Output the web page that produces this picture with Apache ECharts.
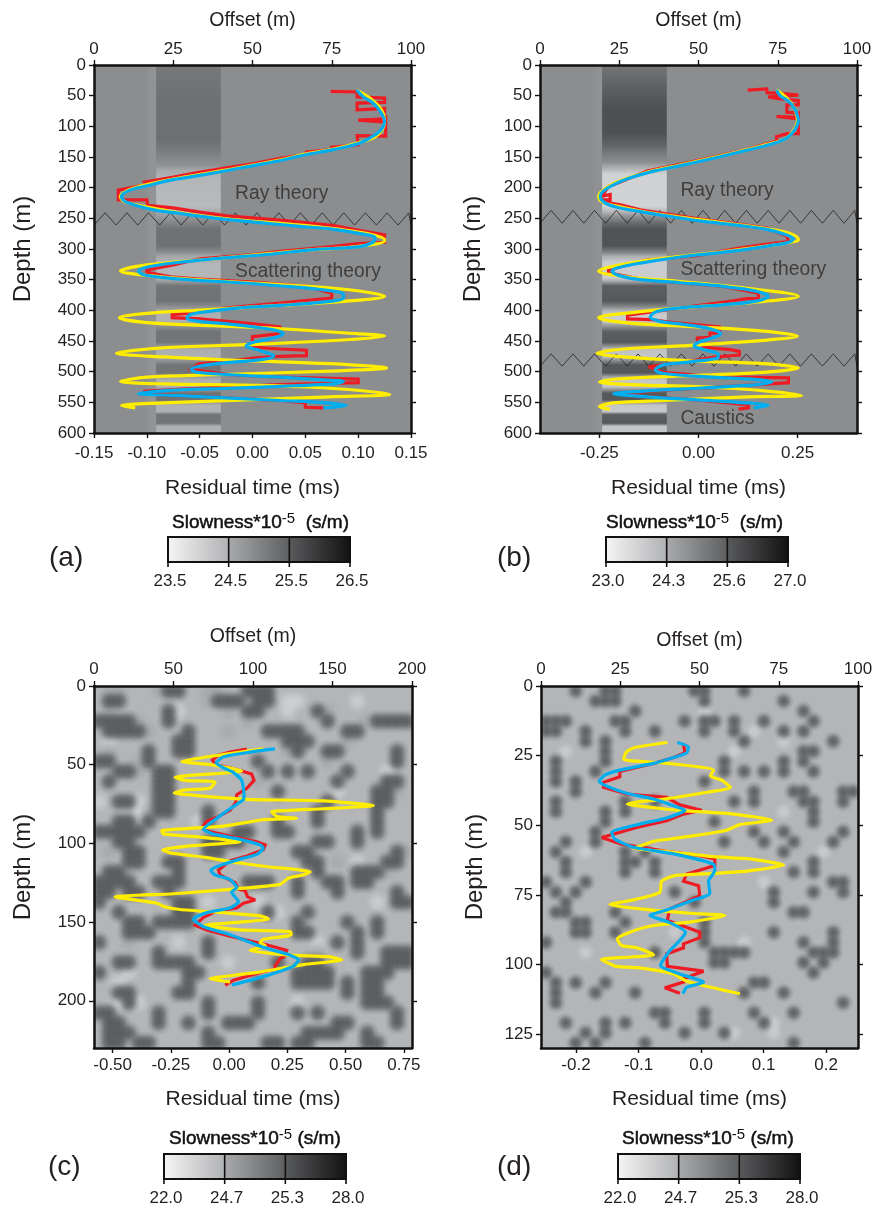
<!DOCTYPE html>
<html><head><meta charset="utf-8">
<style>html,body{margin:0;padding:0;background:#fff}#c{width:878px;height:1206px}</style>
<script src="https://cdn.jsdelivr.net/npm/echarts@6/dist/echarts.min.js"></script></head>
<body><div id="c"></div>
<script>
// ---------- colour-bar tick labels ----------
const barTicksA = ['23.5','24.5','25.5','26.5'];
const barTicksB = ['23.0','24.3','25.6','27.0'];
const barTicksC = ['22.0','24.7','25.3','28.0'];
const barTicksD = ['22.0','24.7','25.3','28.0'];
// ---------- axis ticks ----------
const timeTicksA = [-0.15,-0.10,-0.05,0,0.05,0.10,0.15];
const timeTicksB = [-0.25,0,0.25];
const timeTicksC = [-0.50,-0.25,0,0.25,0.50,0.75];
const timeTicksD = [-0.2,-0.1,0,0.1,0.2];
const depthTicksAB = [0,50,100,150,200,250,300,350,400,450,500,550,600];
const depthTicksC = [0,50,100,150,200];
const depthTicksD = [0,25,50,75,100,125];
// ---------- panel (a) residual time vs depth ----------
const redA = [[.074,43],[.099,44],[.099,52],[.125,54],[.125,61],[.099,62],[.099,73],[.125,71],[.125,77],[.122,78],[.126,84],[.126,88],[.1,90],[.126,93],[.126,116],[.099,115],[.1,130],[.075,134],[.075,138],[.051,142],[.049,146],[.024,153],[0,161],[-.026,168],[-.051,175],[-.076,183],[-.102,191],[-.1,195],[-.127,204],[-.127,220],[-.1,220],[-.099,229],[-.075,233],[-.05,240],[-.024,246],[.026,253],[.077,262],[.102,270],[.125,277],[.125,289],[.1,291],[.075,296],[.05,300],[.026,304],[.001,309],[-.05,316],[-.075,326],[-.1,334],[-.1,338],[-.075,346],[-.05,349],[.001,354],[.051,361],[.075,372],[.075,380],[.05,384],[.026,388],[-.024,396],[-.062,405],[-.076,407],[-.076,412],[-.05,414],[-.024,418],[.001,422],[.026,427],[.026,438],[0,443],[0,449],[.001,460],[.026,463],[.051,465],[.051,474],[.026,475],[.001,478],[-.024,483],[-.051,487],[-.058,496],[-.021,505],[.026,509],[.1,512],[.1,518],[.026,521],[-.062,528],[-.102,532],[-.103,536],[-.069,539],[.026,547],[.05,551],[.05,558],[.067,559]];
const yellowA = [[.0986,41],[.111,54],[.122,73],[.125,92],[.123,105],[.116,117],[.102,126],[.0765,137],[.051,145],[.023,156],[-.024,171],[-.075,186],[-.1,195],[-.116,203],[-.125,214],[-.122,222],[-.11,228],[-.069,241],[-.018,252],[.045,261],[.102,273],[.125,285],[.125,287],[.099,296],[.058,301],[.013,308],[-.037,316],[-.1,326],[-.125,336],[-.1,343],[-.053,350],[.026,358],[.089,366],[.125,377],[.089,385],[.026,392],[-.053,400],[-.1,405],[-.126,412],[-.1,420],[-.037,425],[.026,430],[.089,437],[.125,442],[.089,448],[-.006,456],[-.084,461],[-.129,470],[-.084,476],[-.006,482],[.073,487],[.127,494],[.073,499],[-.037,505],[-.1,509],[-.125,516],[-.084,520],[-.006,522],[.073,527],[.13,537],[.073,541],[-.006,546],[-.084,551],[-.124,555],[-.111,559]];
const blueA = [[.0986,41],[.105,52],[.114,62],[.121,76],[.125,92],[.122,105],[.114,116],[.102,127],[.0765,138],[.051,146],[.023,157],[.001,164],[-.024,172],[-.05,180],[-.075,187],[-.1,197],[-.116,204],[-.124,214],[-.121,222],[-.11,229],[-.091,237],[-.069,242],[-.043,248],[-.018,253],[.013,258],[.045,263],[.077,268],[.102,275],[.116,282],[.114,289],[.102,296],[.058,301],[.013,309],[-.037,316],[-.081,324],[-.103,331],[-.108,336],[-.103,342],[-.081,347],[-.053,351],[-.012,355],[.032,361],[.064,366],[.086,374],[.086,380],[.064,387],[.026,392],[-.012,396],[-.043,402],[-.059,407],[-.062,413],[-.05,418],[-.024,422],[.001,427],[.023,433],[.029,438],[.02,445],[.001,452],[-.006,458],[.004,464],[.017,471],[.02,475],[.01,480],[-.021,485],[-.047,490],[-.058,496],[-.053,501],[-.021,505],[.026,509],[.064,513],[.086,516],[.077,520],[.039,523],[-.021,527],[-.075,530],[-.108,536],[-.069,539],[-.021,543],[.026,547],[.064,550],[.089,555],[.067,559]];
// ---------- panel (b) ----------
const redB = [[.124,41],[.172,39],[.173,45],[.202,46],[.252,49],[.176,52],[.202,55],[.252,58],[.252,65],[.223,65],[.223,77],[.252,78],[.252,85],[.197,84],[.252,88],[.252,112],[.223,112],[.197,117],[.197,124],[.122,138],[.038,150],[-.046,162],[-.13,173],[-.202,192],[-.227,198],[-.244,214],[-.223,211],[-.223,220],[-.244,220],[-.223,225],[-.197,228],[-.147,236],[-.071,244],[.013,252],[.097,259],[.172,266],[.223,279],[.227,288],[.164,293],[.088,300],[-.004,311],[-.13,318],[-.227,334],[-.227,339],[-.13,351],[-.046,355],[.063,361],[.151,372],[.151,381],[.122,381],[.071,386],[-.046,396],[-.147,405],[-.179,408],[-.179,414],[-.122,415],[-.046,421],[.053,427],[.053,437],[.029,437],[.029,444],[-.003,445],[-.003,449],[.013,460],[.08,464],[.103,467],[.103,473],[.046,476],[-.055,486],[-.126,492],[-.088,501],[.038,508],[.227,510],[.227,518],[.08,524],[-.088,530],[-.206,536],[-.13,541],[-.004,546],[.126,554],[.126,559],[.101,561]];
const yellowB = [[.197,41],[.223,54],[.244,73],[.25,91],[.239,108],[.218,121],[.189,127],[.122,138],[.038,151],[-.046,163],[-.113,172],[-.172,183],[-.214,193],[-.244,206],[-.252,214],[-.241,224],[-.206,230],[-.147,238],[-.071,246],[.013,253],[.097,260],[.172,267],[.227,274],[.252,284],[.248,287],[.197,293],[.08,303],[-.046,312],[-.172,323],[-.252,336],[-.172,346],[-.046,353],[.122,364],[.252,377],[.122,388],[-.046,396],[-.172,404],[-.252,412],[-.172,421],[-.004,427],[.164,434],[.25,442],[.164,449],[-.046,458],[-.189,463],[-.256,470],[-.189,476],[-.004,483],[.164,487],[.252,494],[.164,501],[-.088,508],[-.206,512],[-.25,517],[-.172,521],[.08,527],[.26,539],[.122,541],[-.088,547],[-.214,551],[-.25,557],[-.223,561]];
const blueB = [[.197,41],[.206,50],[.227,59],[.244,73],[.252,91],[.244,105],[.223,119],[.189,128],[.122,139],[.038,152],[-.046,164],[-.113,173],[-.172,184],[-.214,195],[-.241,206],[-.248,214],[-.238,224],[-.206,232],[-.147,239],[-.071,247],[.013,255],[.097,261],[.172,268],[.223,277],[.239,284],[.223,290],[.197,293],[.08,304],[-.046,313],[-.147,323],[-.206,331],[-.218,336],[-.202,343],[-.147,350],[-.046,355],[.063,361],[.147,369],[.176,377],[.147,385],[.063,391],[-.046,396],[-.105,402],[-.122,411],[-.097,418],[-.038,423],[.029,430],[.056,438],[.034,445],[0,452],[-.011,458],[.013,464],[.05,472],[.046,478],[-.021,484],[-.088,489],[-.109,497],[-.088,503],[.038,509],[.147,513],[.185,517],[.147,521],[-.004,527],[-.147,532],[-.214,536],[-.13,541],[-.004,546],[.097,550],[.176,555],[.139,559]];
// ---------- panel (c) ----------
const redC = [[.076,40],[.004,42],[-.046,44],[-.072,47],[-.056,50],[.004,52],[.054,54],[.097,56],[.107,60],[.076,65],[.033,69],[.029,74],[.004,79],[-.046,83],[-.096,86],[-.117,90],[-.096,92],[.019,96],[.119,99],[.155,101],[.147,104],[.076,108],[.004,111],[-.046,117],[-.039,120],[.026,125],[.04,129],[.069,130],[.079,134],[.112,136],[.062,138],[.033,141],[-.053,143],[-.11,147],[-.146,152],[-.096,155],[.004,159],[.119,163],[.176,165],[.247,168],[.236,172],[.219,173],[.197,178],[.197,180],[.133,182],[.019,187],[-.017,190]];
const yellowC = [[.147,40],[.004,43],[-.203,48],[-.081,50],[.054,54],[-.232,58],[-.189,60],[-.06,61],[-.082,65],[-.189,66],[-.236,68],[-.11,70],[.076,72],[.405,73],[.619,76],[.405,78],[.183,80],[.205,83],[.29,84],[.147,85],[-.024,89],[-.289,92],[-.282,94],[-.124,96],[.047,99],[-.024,100],[-.196,102],[-.285,104],[-.253,106],[-.096,109],[.021,112],[.176,115],[.348,118],[.319,120],[.255,122],[.219,126],[.019,129],[-.239,132],[-.489,134],[-.31,138],[-.282,140],[-.211,142],[-.024,144],[.133,146],[.169,148],[.047,150],[-.103,152],[.047,155],[.262,156],[.266,158],[.147,161],[.133,163],[.155,165],[.09,168],[.262,171],[.426,172],[.484,174],[.319,177],[.119,182],[-.046,185],[-.082,186],[.004,188]];
const blueC = [[.197,40],[.09,42],[-.024,45],[-.056,49],[-.024,52],[.019,55],[.054,60],[.064,69],[.062,72],[.004,78],[-.053,84],[-.11,91],[-.067,94],[.033,97],[.133,101],[.147,103],[.119,107],[.047,110],[-.039,114],[-.079,117],[-.06,120],[.004,123],[.033,128],[.011,131],[.04,137],[.004,141],[-.096,144],[-.153,148],[-.11,153],[.004,158],[.147,166],[.262,171],[.298,174],[.276,178],[.162,184],[.011,190]];
// ---------- panel (d) ----------
const redD = [[-.028,20.7],[-.026,24],[-.044,25.7],[-.076,27.8],[-.13,30.7],[-.13,32.6],[-.156,34.6],[-.156,36.4],[-.119,38.8],[-.055,40],[-.034,42.7],[.001,44.6],[-.028,46],[-.055,48.4],[-.103,50.8],[-.159,54.4],[-.127,56.8],[-.055,59.4],[-.002,60.9],[.022,62.1],[.022,64.5],[-.023,67.5],[-.028,70.1],[-.004,71.7],[-.002,75.3],[-.05,80],[-.054,84.2],[-.034,85.7],[-.002,88.4],[-.002,90.4],[-.028,92.6],[-.028,94],[-.055,96.2],[-.054,100.7],[.004,102.4],[-.028,105.1],[-.028,106.3],[-.058,108.4],[-.034,110.3]];
const yellowD = [[-.054,20.3],[-.106,22.1],[-.119,23.6],[-.124,26.3],[-.087,27.2],[-.044,28],[.02,30.2],[.015,32.3],[.033,33.8],[.047,36.4],[-.002,38.6],[-.071,41],[-.098,41.5],[-.118,42.4],[-.071,43.8],[-.028,44.8],[.052,46],[.113,48.2],[.062,49.8],[.038,52],[-.023,54.1],[-.076,55.8],[-.095,57.3],[-.108,58.2],[-.044,59.7],[.02,61.3],[.078,62.1],[.132,64.3],[.073,66.5],[.02,67.3],[-.042,68.1],[-.063,70.1],[-.066,74.1],[-.108,76.8],[-.146,78.5],[-.082,80.4],[-.018,81.6],[.038,82.4],[-.018,84.8],[-.076,86],[-.114,88.4],[-.134,90.8],[-.127,93.2],[-.103,94],[-.076,96.5],[-.119,97.4],[-.159,98.2],[-.135,100.7],[-.098,101.2],[-.044,103.4],[-.023,106],[.062,110.5]];
const blueD = [[-.038,20.3],[-.02,21.9],[-.023,24],[-.044,25.7],[-.076,27.8],[-.13,30.2],[-.154,32],[-.163,34.3],[-.146,36.4],[-.119,38.5],[-.076,40.6],[-.044,43],[-.026,44.6],[-.055,47.4],[-.098,49.6],[-.143,52.6],[-.138,55],[-.108,57.9],[-.044,60.3],[.02,64],[.022,66.3],[.012,70],[.014,74.4],[-.018,77.3],[-.055,80.4],[-.082,82.4],[-.052,84.8],[-.025,88.4],[-.034,91.4],[-.052,95.6],[-.065,100.4],[-.034,103.4],[.004,106.4],[-.023,108.2],[-.029,110.5]];
// ---------- layered model slowness: depth and slowness inside the 20-40 m column ----------
const bandDepthA = [0,30,60,120,130,150,165,172,185,230,240,250,258,268,295,305,312,325,347,353,360,385,393,402,408,418,425,435,452,458,464,475,482,489,502,508,514,524,530,535,546,550,555,565,570,584,589,597,600];
const bandSlowA  = [25.15,25.2,25.27,25.27,25.2,25.0,24.8,24.5,24.35,24.28,24.5,24.8,25.0,25.25,25.25,24.9,24.55,24.33,24.33,24.7,25.2,25.25,24.9,24.5,24.4,24.4,24.8,25.2,25.2,24.8,24.45,24.4,24.8,25.2,25.2,24.7,24.4,24.4,24.8,25.25,25.25,24.8,24.4,24.4,25.2,25.2,24.4,24.4,24.4];
const bandDepthB = [0,30,70,110,130,145,158,166,178,230,238,248,258,268,295,305,312,322,347,353,360,385,393,402,408,418,425,435,452,458,464,475,482,489,502,508,514,524,530,535,546,550,555,565,570,584,589,600];
const bandSlowB  = [25.2,25.5,25.85,25.85,25.5,25.1,24.8,24.3,23.6,23.6,24.0,24.8,25.4,25.8,25.8,25,24.2,23.7,23.7,24.4,25.6,25.7,25,24,23.7,23.7,24.6,25.6,25.7,24.8,23.9,23.8,24.8,25.7,25.7,24.5,23.8,23.8,24.8,25.7,25.7,24.7,23.8,23.8,25.6,25.7,23.8,23.8];
const backgroundSlow = {a:24.87, b:24.78, c:24.27, d:24.27};
// ---------- zig-zag markers (offset, then shallow/deep depth) ----------
const zigOffsets = [0,3.5,7,10.4,13.8,17.2,20.7,24.1,27.5,30.9,34.3,37.8,41.2,44.6,48,51.4,54.9,58.3,61.7,65.1,68.5,72,75.4,78.8,82.2,85.6,89.1,92.5,95.9,99.3,100];
const zigDepthsA = [[241,261]];
const zigDepthsB = [[237,258],[471,491]];
// ---------- random-medium slowness read cell by cell (# dark, + mid, . background, - light) ----------
const levelSlow = {'-':23.0,'.':24.27,'+':24.78,'#':25.33};
const mediumC = [
".++...+##. .++..###.. .......... ..",
".##....... .+###+##.- -.....-... ..",
".+.....#-. ...+.##..- ..#+...... ..",
"####+..#.. .....+.... ...#...+## ##",
".####+...# ...+...### #....##... ..",
".-......## .........# ##...+.... ..",
".+...#..## .........+ #..##..... #.",
"##..+#.... ......#... ...+...... #.",
"..##+.##.. .......#.# .#...#...- ..",
".#....##.. ......+... ....#....# #.",
"......##.. ........#. ....-...## +.",
"-.##-.##.. .......... ...#....## ..",
"....-+##.. .#........ ..#.....#. ..",
"..##.#.... -#......#. ..#.....#. ..",
"#####..... ....##..## ......#.#. ..",
"..##...... .####+.... ..##..#... ..",
".+.##..... .##....... ##........ #+",
"...##..##. .......... .##.+.-..# #.",
".##+....#. .......... ..#...###+ ..",
"####..###. .....###.. #..##.##.. ..",
"##.##..#.. .......... #...#..... #.",
"#.......## .-....-... ........-. ##",
"..#.....## .......#-. .#........ ..",
"...##.#### .......... #....#..#. ..",
"...###.... .......... ##....#.#. ..",
"#..+....-. .#........ ..-.#.#... ..",
"......#... .#........ ..+...#..# ##",
"..##..#### ...-....#. .##+.....# ##",
"#..-.....# #......... ####...### ..",
"..-......# ......#... ####.#.##. ..",
"..##....## .......... .....#.##. ..",
"..-#-..... .#....#... -......### ..",
"##....#... .#....#... #.#....... #.",
".##...#..# ...###.... ....##.... #.",
".###...... .#........ .####..#.. ..",
".##.##.... .##....##. ##.....##. .."];
const mediumD = [
"...#..##.. .....##... #......... ..",
".....###.. ......#... ....#..... ..",
".........# ......-... ......#... ..",
"###....##. ....#.##.# ..#....#.. ..",
"##..#...#. .#....#..# .-..#.#... ..",
"....#.#... .......... #...-....# ..",
"..-...#... .........- ......##.. ..",
".#....#... ........#. ....#.#... ..",
".#...#.... ........#. #.#.#..#.. ..",
".#.#...... ......#... .......... ..",
"...#...... .......... .#...##... ##",
".#......#. .#.......# .#....##.. #.",
".#....#.#. .......... ....-..#.. ..",
"......#... .......#.. .......#.. ..",
".....#.... .......... .#..#..... #.",
"..#..#.... ........#. ..#..#...# ..",
".#..-...#. #-........ ....#...-. ..",
"..#.....## .#........ .......#.. ..",
"..#.....#. .#........ .....#.#.. ..",
"#...#..... .......... ..-......# #.",
".#.#...... ...#...... ...#...#.. #.",
"..#....... .....#.... ...#...... ..",
".##....#.. .......... .....##... ..",
"...##...#. ......#... .......... ..",
"...##..#.. ...-..#... ...#.....# ..",
"#......... ......#... -.....#..# ..",
"....-..... .#.....### #......### ..",
".......... .......##. ......#.#. ..",
"#......... .......... .......#.. ..",
".#.#..#... .......... .##....... ..",
".#...#...# .......... #...#..... ..",
".#........ .......... .......... #.",
".......... .##...#... .#...#.... ..",
"..#...#.#. ..#...#... ..#-...... ..",
"....#.#... ....#...#- ...-...... ..",
"...#.#.... #......... .....#.... .."];

// ---------- helpers ----------
function grayVal(s, ticks){
  const t = ticks.map(Number); let f = 1;
  for(let i=0;i<3;i++){ if(s<=t[i+1]){ f=(i+(s-t[i])/(t[i+1]-t[i]))/3; break; } }
  f=Math.max(0,Math.min(1,f));
  return Math.round(244-f*227);
}
function grayOf(s,ticks){ const g=grayVal(s,ticks); return 'rgb('+g+','+(g+1)+','+(g+3)+')'; }
function mediumCells(rows,maxOff,maxDepth,order){
  const out=[]; const clean=rows.map(r=>r.replace(/ /g,''));
  clean.forEach((row,r)=>{ for(let c=0;c<row.length;c++){ if(row[c]===order){
    out.push([(c+.5)/row.length*maxOff,(r+.5)/clean.length*maxDepth,levelSlow[order]]);
  }}});
  return out;
}
const FONT='"Liberation Sans",Arial,sans-serif', INK='#231f20';
const panels=[
 {key:'a',left:94,top:65,w:317,h:368,tmin:-.15,tmax:.15,tt:timeTicksA,dec:2,dmax:600,dt:depthTicksAB,omax:100,oint:25,red:redA,yel:yellowA,blu:blueA,bar:barTicksA,smooth:.35,zig:zigDepthsA,bd:bandDepthA,bs:bandSlowA,strip:24.8,
  lm:12,rg:44.5,om:7.5,og:34,dg:59,notes:[{name:'Ray theory',value:[44.5,209]},{name:'Scattering theory',value:[44.5,337]}]},
 {key:'b',left:540,top:65,w:317,h:368,tmin:-.4,tmax:.4,tt:timeTicksB,dec:2,dmax:600,dt:depthTicksAB,omax:100,oint:25,red:redB,yel:yellowB,blu:blueB,bar:barTicksB,smooth:.35,zig:zigDepthsB,bd:bandDepthB,bs:bandSlowB,strip:24.72,
  lm:12,rg:44.5,om:7.5,og:34,dg:55,notes:[{name:'Ray theory',value:[44.3,205]},{name:'Scattering theory',value:[44.3,334]},{name:'Caustics',value:[44.3,577]}]},
 {key:'c',left:94,top:686,w:318,h:362,tmin:-.58,tmax:.785,tt:timeTicksC,dec:2,dmax:230,dt:depthTicksC,omax:200,oint:50,red:redC,yel:yellowC,blu:blueC,bar:barTicksC,smooth:.2,zig:[],medium:mediumC,r:12.5,
  lm:9,rg:40.5,om:8.5,og:39.5,dg:59,notes:[]},
 {key:'d',left:541,top:686,w:317,h:362,tmin:-.256,tmax:.251,tt:timeTicksD,dec:1,dmax:130,dt:depthTicksD,omax:100,oint:25,red:redD,yel:yellowD,blu:blueD,bar:barTicksD,smooth:.2,zig:[],medium:mediumD,r:10.5,
  lm:9,rg:40.5,om:8.5,og:35.5,dg:54,notes:[]}
];
const axisLine={show:true,onZero:false,lineStyle:{color:'#111',width:2.5}};
const tick={show:true,length:5,lineStyle:{color:'#111',width:1.4}};
const lab={color:INK,fontFamily:FONT,fontSize:17};

const grid=[],xAxis=[],yAxis=[],series=[];
panels.forEach((p,i)=>{
  grid.push({left:p.left,top:p.top,width:p.w,height:p.h,show:true,borderWidth:0,backgroundColor:grayOf(backgroundSlow[p.key],p.bar)});
  const xb=2*i,xt=2*i+1,yl=2*i;
  xAxis.push({gridIndex:i,type:'value',position:'bottom',min:p.tmin,max:p.tmax,z:6,splitLine:{show:false},axisLine,
    axisTick:{...tick,customValues:p.tt},
    axisLabel:{...lab,margin:p.lm,customValues:p.tt,formatter:v=>Number(v).toFixed(p.dec)},
    name:'Residual time (ms)',nameLocation:'middle',nameGap:p.rg,nameTextStyle:{color:INK,fontFamily:FONT,fontSize:21}});
  xAxis.push({gridIndex:i,type:'value',position:'top',min:0,max:p.omax,interval:p.oint,z:6,splitLine:{show:false},axisLine,axisTick:tick,
    axisLabel:{...lab,margin:p.om},name:'Offset (m)',nameLocation:'middle',nameGap:p.og,nameTextStyle:{color:INK,fontFamily:FONT,fontSize:19.5}});
  yAxis.push({gridIndex:i,type:'value',position:'left',inverse:true,min:0,max:p.dmax,z:6,splitLine:{show:false},axisLine,
    axisTick:{...tick,customValues:p.dt},axisLabel:{...lab,margin:8,customValues:p.dt},
    name:'Depth (m)',nameLocation:'middle',nameGap:p.dg,nameTextStyle:{color:INK,fontFamily:FONT,fontSize:24}});
  yAxis.push({gridIndex:i,type:'value',position:'right',inverse:true,min:0,max:p.dmax,z:6,splitLine:{show:false},axisLine,
    axisTick:{...tick,customValues:p.dt},axisLabel:{show:false}});
  // model background
  if(p.bd){
    const stops=p.bd.map((d,k)=>({offset:d/p.dmax,color:grayOf(p.bs[k],p.bar)}));
    const stripGray=grayOf(p.strip,p.bar);
    series.push({type:'custom',name:'model '+p.key,xAxisIndex:xt,yAxisIndex:yl,silent:true,animation:false,clip:true,z:1,
      data:[[16,19.6,40,p.dmax]],
      renderItem:(ps,api)=>{
        const a=api.coord([api.value(0),0]),b=api.coord([api.value(1),api.value(3)]),c=api.coord([api.value(2),0]);
        return {type:'group',children:[
          {type:'rect',shape:{x:a[0],y:a[1],width:b[0]-a[0],height:b[1]-a[1]},style:{fill:new echarts.graphic.LinearGradient(0,0,1,0,[{offset:0,color:grayOf(backgroundSlow[p.key],p.bar)},{offset:.5,color:stripGray},{offset:1,color:stripGray}])}},
          {type:'rect',shape:{x:b[0],y:a[1],width:c[0]-b[0],height:b[1]-a[1]},style:{fill:new echarts.graphic.LinearGradient(0,0,0,1,stops)}}
        ]};
      }});
  }
  // random medium: soft blobs so neighbouring cells merge
  if(p.medium){
    ['-','+','#'].forEach((lev,q)=>{
      const strength=lev==='#'?1:(lev==='+'?.6:.75);
      series.push({type:'custom',name:'medium '+p.key+q,xAxisIndex:xt,yAxisIndex:yl,silent:true,animation:false,clip:true,z:1+q*.1,
        data:mediumCells(p.medium,p.omax,p.dmax,lev),
        renderItem:(ps,api)=>{
          const pt=api.coord([api.value(0),api.value(1)]);
          const g=grayVal(api.value(2),p.bar)-(lev==='#'?14:0);
          const rgba=a=>'rgba('+g+','+(g+1)+','+(g+3)+','+(a*strength)+')';
          return {type:'circle',shape:{cx:pt[0],cy:pt[1],r:p.r},style:{fill:new echarts.graphic.RadialGradient(.5,.5,.5,[{offset:0,color:rgba(.85)},{offset:.4,color:rgba(.6)},{offset:.7,color:rgba(.2)},{offset:1,color:rgba(0)}])}};
        }});
    });
  }
  // zig-zags
  p.zig.forEach((z,k)=>{
    series.push({type:'line',name:'zigzag '+p.key+k,xAxisIndex:xt,yAxisIndex:yl,silent:true,animation:false,z:3,showSymbol:false,
      lineStyle:{color:'#222',width:.8},data:zigOffsets.map((o,n)=>[o,n%2?z[0]:z[1]])});
  });
  // curves
  const line=(name,data,color,smooth,z,w)=>({type:'line',name,xAxisIndex:xb,yAxisIndex:yl,data,silent:true,animation:false,showSymbol:false,
    smooth,z,lineStyle:{color,width:w,join:'miter',miterLimit:3}});
  series.push(line('Measured '+p.key,p.red,'#ed1c24',0,4,3.2));
  series.push(line('Ray/scattering '+p.key,p.yel,'#ffed00',p.smooth,5,3.2));
  series.push(line('Fit '+p.key,p.blu,'#00aeef',p.smooth,5.5,3.2));
  if(p.notes.length){
    series.push({type:'scatter',name:'notes '+p.key,xAxisIndex:xt,yAxisIndex:yl,symbolSize:0,silent:true,animation:false,z:5.8,data:p.notes,
      label:{show:true,position:'right',distance:0,formatter:'{b}',color:'#2b2b2b',fontFamily:FONT,fontSize:19.3}});
  }
});
// colour bars and panel letters
const bars=[
 {x:168,y:537,t:barTicksA,tx:172,ty:523,gap:'  ',letter:'(a)',lx:49,ly:558},
 {x:606,y:537,t:barTicksB,tx:606,ty:523,gap:'  ',letter:'(b)',lx:497,ly:558},
 {x:164,y:1154,t:barTicksC,tx:169,ty:1139,gap:' ',letter:'(c)',lx:48,ly:1167},
 {x:618,y:1154,t:barTicksD,tx:622,ty:1139,gap:' ',letter:'(d)',lx:497,ly:1167}
];
const graphic=[];
bars.forEach(b=>{
  const W=182,H=25;
  graphic.push({type:'rect',silent:true,shape:{x:b.x,y:b.y,width:W,height:H},
    style:{fill:new echarts.graphic.LinearGradient(0,0,1,0,[{offset:0,color:'#f6f6f6'},{offset:.33,color:'#b2b3b5'},{offset:.34,color:'#a8a9ab'},{offset:.66,color:'#5f6062'},{offset:.67,color:'#58595b'},{offset:1,color:'#111'}]),stroke:'#111',lineWidth:2}});
  b.t.forEach((v,i)=>{
    const x=b.x+W*i/3;
    graphic.push({type:'line',silent:true,shape:{x1:x,y1:b.y,x2:x,y2:b.y+H+5},style:{stroke:'#111',lineWidth:1.6}});
    graphic.push({type:'text',silent:true,style:{text:v,x:x+2,y:b.y+H+19,align:'center',verticalAlign:'middle',fill:INK,font:'17px '+FONT}});
  });
  graphic.push({type:'text',silent:true,style:{x:b.tx,y:b.ty,verticalAlign:'middle',
    text:'{m|Slowness*10}{s|-5}{m|'+b.gap+'(s/m)}',
    rich:{m:{font:'19px '+FONT,fill:'#111',stroke:'#111',lineWidth:.5},s:{font:'15px '+FONT,fill:'#111',verticalAlign:'top',padding:[0,0,8,0]}}}});
  graphic.push({type:'text',silent:true,style:{text:b.letter,x:b.lx,y:b.ly,verticalAlign:'middle',fill:INK,font:'28px '+FONT}});
});
const chart=echarts.init(document.getElementById('c'),null,{renderer:'canvas'});
chart.setOption({animation:false,backgroundColor:'#fff',grid,xAxis,yAxis,series,graphic});
</script></body></html>
